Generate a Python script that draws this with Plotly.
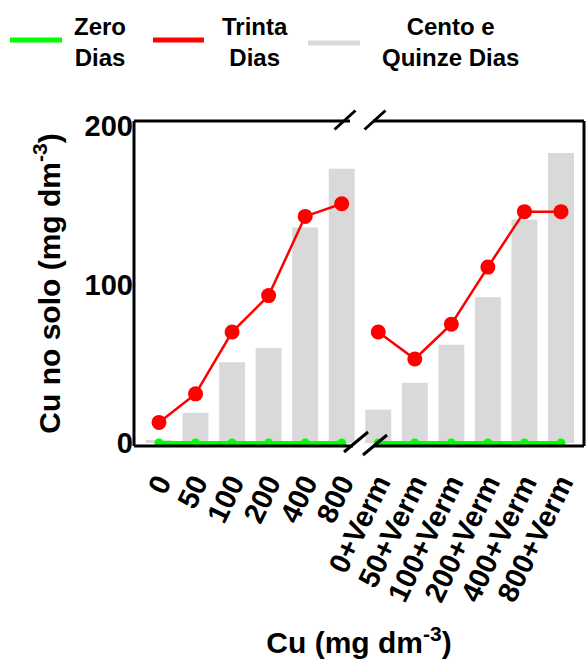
import plotly.graph_objects as go

# Cu treatments (mg dm-3), without and with vermicompost
doses = ["0", "50", "100", "200", "400", "800"]
doses_verm = ["0+Verm", "50+Verm", "100+Verm", "200+Verm", "400+Verm", "800+Verm"]
categories = doses + doses_verm

# Cu in soil (mg dm-3) at each sampling time
zero_dias = [0, 0, 0, 0, 0, 0, 0, 0, 0, 0, 0, 0]
trinta_dias = [13, 31, 70, 93, 143, 151, 70, 53, 75, 111, 146, 146]
cento_quinze_dias = [2, 19, 51, 60, 136, 173, 21, 38, 62, 92, 141, 183]

series_names = ["Zero<br>Dias", "Trinta<br>Dias", "Cento e<br>Quinze Dias"]
y_ticks = [0, 100, 200]

GREEN = "#00ff00"
RED = "#ff0000"
GRAY = "#d9d9d9"
FAMILY = "Liberation Sans, Arial"
XTICK_FONT = dict(family=FAMILY, size=29, color="black", weight="bold")
YTICK_FONT = dict(family=FAMILY, size=29, color="black", weight="bold")
TITLE_FONT = dict(family=FAMILY, size=30, color="black", weight="bold")
LEG_FONT = dict(family=FAMILY, size=24, color="black", weight="bold")

W, H = 587, 660
L, R, T, B = 134, 584, 121, 446


def px(x):
    return (x - L) / (R - L)


def py(y):
    return (B - y) / (B - T)


fig = go.Figure()

fig.add_trace(go.Bar(x=categories, y=cento_quinze_dias, marker_color=GRAY,
                     marker_line_width=0, showlegend=False))

# lines are drawn per block so they break between the two treatment groups
for block in (slice(0, 6), slice(6, 12)):
    fig.add_trace(go.Scatter(x=categories[block], y=trinta_dias[block],
                             mode="lines+markers", line=dict(color=RED, width=2.5),
                             marker=dict(color=RED, size=15), showlegend=False))
    fig.add_trace(go.Scatter(x=categories[block], y=zero_dias[block],
                             mode="lines+markers", line=dict(color=GREEN, width=4),
                             marker=dict(color=GREEN, size=9), showlegend=False))

shapes = []


def seg(x0, y0, x1, y1, color="black", width=3):
    shapes.append(dict(type="line", xref="paper", yref="paper",
                       x0=px(x0), y0=py(y0), x1=px(x1), y1=py(y1),
                       line=dict(color=color, width=width)))


# frame with the axis break between the two groups
seg(L, T, L, B)
seg(R, T, R, B)
seg(L, T, 350, T)
seg(373, T, R, T)
seg(L, B, 353, B)
seg(373, B, R, B)
for cx, cy, hx, hy in [(345, 120, 10.5, 9.5), (375, 120, 10.5, 9.5),
                       (356, 442, 12, 10), (375, 445, 12, 10)]:
    seg(cx - hx, cy + hy, cx + hx, cy - hy)

# legend
legend_items = [(GREEN, 10, 62, 40, 100), (RED, 153, 204, 40, 255), (GRAY, 308, 360, 43, 450)]
annotations = []
for name, (color, x0, x1, yl, xt) in zip(series_names, legend_items):
    seg(x0, yl, x1, yl, color=color, width=5)
    annotations.append(dict(xref="paper", yref="paper", x=px(xt), y=py(42),
                            text=name, showarrow=False, align="center",
                            xanchor="center", yanchor="middle", font=LEG_FONT))

fig.update_layout(
    width=W, height=H,
    margin=dict(l=L, r=W - R, t=T, b=H - B, pad=0),
    plot_bgcolor="white", paper_bgcolor="white",
    bargap=0.29,
    shapes=shapes, annotations=annotations,
    xaxis=dict(type="category", range=[-0.684, 11.63], showgrid=False, zeroline=False,
               showline=False, ticks="outside", ticklen=8, tickcolor="rgba(0,0,0,0)",
               tickangle=-64, tickfont=XTICK_FONT,
               title=dict(text="Cu (mg dm<sup>-3</sup>)", font=TITLE_FONT, standoff=26)),
    yaxis=dict(range=[-1.9, 203.2], tickvals=y_ticks, showgrid=False, zeroline=False,
               showline=False, ticks="", tickfont=YTICK_FONT,
               title=dict(text="Cu no solo (mg dm<sup>-3</sup>)", font=TITLE_FONT, standoff=15)),
)

fig.write_html("out.html")
